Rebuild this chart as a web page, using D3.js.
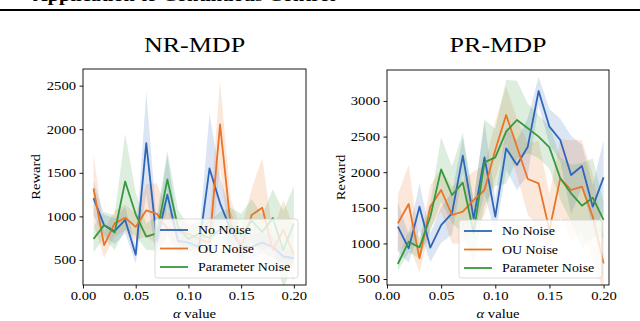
<!DOCTYPE html>
<html>
<head>
<meta charset="utf-8">
<script src="https://cdn.jsdelivr.net/npm/d3@7/dist/d3.min.js"></script>
<style>
body{margin:0;background:#fff}
svg{display:block}
text{font-family:"Liberation Serif","Times New Roman",serif;fill:#000}
</style>
</head>
<body>
<svg id="fig" width="640" height="321"></svg>
<script>
// alpha values on the x axis
const alphaVals=[0.01,0.02,0.03,0.04,0.05,0.06,0.07,0.08,0.09,0.10,0.11,0.12,0.13,0.14,0.15,0.16,0.17,0.18,0.19,0.20];
const seriesNames=["No Noise","OU Noise","Parameter Noise"];
const seriesColors=["#2f66b9","#ea7427","#37993f"];

// NR-MDP, mean and std per alpha
const nrNoMean=[1210,900,830,960,560,1840,720,1250,720,700,650,1550,1150,850,650,650,700,650,540,520];
const nrNoStd=[200,120,150,150,100,590,200,450,150,100,120,630,300,200,150,150,120,120,100,100];
const nrOuMean=[1320,670,920,985,880,1070,1030,860,830,800,740,700,2056,900,650,1016,1100,615,844,557];
const nrOuStd=[400,150,150,150,150,300,350,200,150,150,150,250,500,300,200,300,570,200,350,300];
const nrParMean=[740,900,814,1400,1024,768,806,1425,880,740,800,750,850,900,780,950,820,982,615,920];
const nrParStd=[150,150,200,550,250,150,200,330,200,150,150,200,200,200,250,250,200,330,450,430];

// PR-MDP, mean and std per alpha
const prNoMean=[1235,930,1516,940,1258,1422,2232,1352,2209,1375,2335,2101,2358,3140,2639,2452,1960,2087,1516,1928];
const prNoStd=[350,200,330,200,250,300,250,250,500,250,300,350,400,200,250,300,550,300,300,520];
const prOuMean=[1282,1553,790,1516,1750,1399,1446,1609,1750,2311,2803,2358,1904,1843,1188,1914,1750,1797,1375,720];
const prOuStd=[400,550,200,300,300,400,450,400,350,400,400,400,500,600,500,550,700,650,600,400];
const prParMean=[711,1024,945,1375,2040,1680,1853,1150,2138,2209,2569,2733,2616,2499,2349,1914,1703,1530,1642,1330];
const prParStd=[100,150,150,200,450,400,700,450,600,400,730,550,350,300,300,300,400,600,550,250];

const xTicks=[0.00,0.05,0.10,0.15,0.20];
const nrYTicks=[500,1000,1500,2000,2500];
const prYTicks=[500,1000,1500,2000,2500,3000];

const panels=[
  {id:"nr",title:"NR-MDP",left:83,right:306,top:69,bottom:285,xMax:0.2115,yDom:[213,2691],yTicks:nrYTicks,
   means:[nrNoMean,nrOuMean,nrParMean],stds:[nrNoStd,nrOuStd,nrParStd],
   legend:{x:155,y:219,w:143,h:59},ylabX:40},
  {id:"pr",title:"PR-MDP",left:387,right:609,top:70,bottom:285,xMax:0.2050,yDom:[416,3435],yTicks:prYTicks,
   means:[prNoMean,prOuMean,prParMean],stds:[prNoStd,prOuStd,prParStd],
   legend:{x:459,y:220,w:143,h:58},ylabX:345}
];

const svg=d3.select("#fig");
const SX=1.22; // the picture is stretched sideways a little
const SERIF='"Liberation Serif","Times New Roman",serif';

// cut-off heading and rule at the top of the page
svg.append("text").attr("transform","translate(33,1) scale(1.2,1)")
  .style("font-size","17px").style("font-weight","bold")
  .text("Application to Continuous Control");
svg.append("line").attr("x1",0).attr("x2",640).attr("y1",10).attr("y2",10)
  .attr("stroke","#000").attr("stroke-width",1.8);

function stretchText(sel,x,y,s,anchor){
  return sel.attr("transform",`translate(${x},${y}) scale(${s},1)`).attr("text-anchor",anchor||"start");
}

panels.forEach(p=>{
  const x=d3.scaleLinear().domain([0,p.xMax]).range([p.left,p.right]);
  const y=d3.scaleLinear().domain(p.yDom).range([p.bottom,p.top]);
  const g=svg.append("g");

  g.append("clipPath").attr("id","clip-"+p.id).append("rect")
    .attr("x",p.left).attr("y",p.top).attr("width",p.right-p.left).attr("height",p.bottom-p.top);
  const plot=g.append("g").attr("clip-path",`url(#clip-${p.id})`);

  const area=d3.area().x((d,i)=>x(alphaVals[i])).y0(d=>y(d[0]-d[1])).y1(d=>y(d[0]+d[1]));
  const line=d3.line().x((d,i)=>x(alphaVals[i])).y(d=>y(d));

  p.means.forEach((m,k)=>{
    plot.append("path").datum(m.map((v,i)=>[v,p.stds[k][i]]))
      .attr("d",area).attr("fill",seriesColors[k]).attr("fill-opacity",0.17);
  });
  p.means.forEach((m,k)=>{
    plot.append("path").datum(m).attr("d",line).attr("fill","none")
      .attr("stroke",seriesColors[k]).attr("stroke-width",1.8).attr("stroke-linejoin","round");
  });

  // axes
  const xa=g.append("g").attr("transform",`translate(0,${p.bottom})`)
    .call(d3.axisBottom(x).tickValues(xTicks).tickFormat(d3.format(".2f")).tickSizeOuter(0).tickSize(3.5).tickPadding(3));
  const ya=g.append("g").attr("transform",`translate(${p.left},0)`)
    .call(d3.axisLeft(y).tickValues(p.yTicks).tickFormat(d3.format("d")).tickSizeOuter(0).tickSize(3.5).tickPadding(3.5));
  [xa,ya].forEach(a=>{
    a.attr("font-family",SERIF).attr("font-size",12);
    a.select(".domain").remove();
    a.selectAll("line").attr("stroke","#000").attr("stroke-width",0.9);
    a.selectAll("text").style("font-size","12px").style("font-family",SERIF);
  });
  xa.selectAll("text").attr("transform",`scale(${SX},1)`);
  ya.selectAll("text").attr("x",-7/SX).attr("transform",`scale(${SX},1)`);

  g.append("rect").attr("x",p.left).attr("y",p.top).attr("width",p.right-p.left).attr("height",p.bottom-p.top)
    .attr("fill","none").attr("stroke","#000").attr("stroke-width",0.9);

  // title and labels
  stretchText(g.append("text"),(p.left+p.right)/2,52,1.24,"middle").style("font-size","21px").text(p.title);
  stretchText(g.append("text"),(p.left+p.right)/2,318,SX,"middle").style("font-size","12px")
    .call(t=>{t.append("tspan").style("font-style","italic").text("α");t.append("tspan").text(" value");});
  g.append("text").attr("transform",`translate(${p.ylabX},${(p.top+p.bottom)/2}) rotate(-90) scale(${SX},1)`)
    .attr("text-anchor","middle").style("font-size","12px").text("Reward");

  // legend
  const L=p.legend;
  const lg=g.append("g").attr("transform",`translate(${L.x},${L.y})`);
  lg.append("rect").attr("width",L.w).attr("height",L.h).attr("rx",2.5)
    .attr("fill","#fff").attr("fill-opacity",0.8).attr("stroke","#d0d0d0").attr("stroke-width",0.8);
  seriesNames.forEach((n,k)=>{
    const ry=11+k*18.5;
    lg.append("line").attr("x1",5).attr("x2",33).attr("y1",ry).attr("y2",ry)
      .attr("stroke",seriesColors[k]).attr("stroke-width",1.8);
    stretchText(lg.append("text"),43,ry+4,1.16,"start").style("font-size","12px").text(n);
  });
});
</script>
</body>
</html>
